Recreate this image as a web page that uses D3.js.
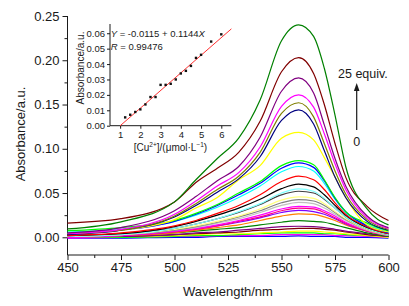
<!DOCTYPE html>
<html><head><meta charset="utf-8">
<script src="https://cdn.jsdelivr.net/npm/d3@7"></script>
<style>
body{margin:0;background:#fff}
svg{display:block}
text{font-family:Arial,"Liberation Sans",sans-serif;fill:#1a1a1a}
</style>
</head><body><svg id="c" width="409" height="306"></svg>
<script>
// ---- main spectra data ----
const wavelengths = [450,475,500,510,520,530,540,550,558,565,570,575,580,590,600];
const s00 = [-0.001,-0.001,0.000,0.000,0.001,0.001,0.001,0.001,0.0015,0.001,0.001,0.001,0.000,0.000,-0.001];
const s01 = [-0.001,0.000,0.001,0.001,0.002,0.002,0.002,0.003,0.003,0.003,0.003,0.002,0.002,0.001,0.000];
const s02 = [0.000,0.000,0.001,0.002,0.002,0.003,0.004,0.005,0.005,0.005,0.004,0.004,0.003,0.002,0.001];
const s03 = [0.000,0.001,0.002,0.003,0.004,0.004,0.005,0.006,0.007,0.007,0.006,0.005,0.004,0.002,0.000];
const s04 = [0.001,0.001,0.003,0.004,0.005,0.006,0.008,0.009,0.010,0.010,0.009,0.008,0.006,0.003,0.001];
const s05 = [0.000,0.001,0.003,0.005,0.006,0.008,0.010,0.012,0.0125,0.012,0.011,0.009,0.007,0.004,0.001];
const s06 = [0.001,0.002,0.005,0.007,0.009,0.011,0.014,0.017,0.0188,0.018,0.017,0.014,0.011,0.005,0.001];
const s07 = [0.000,0.002,0.005,0.008,0.011,0.014,0.019,0.024,0.0264,0.026,0.023,0.019,0.014,0.007,0.002];
const s08 = [0.002,0.003,0.007,0.010,0.013,0.017,0.022,0.028,0.0305,0.029,0.026,0.021,0.015,0.007,0.002];
const s09 = [0.001,0.002,0.006,0.009,0.013,0.018,0.023,0.030,0.033,0.032,0.028,0.022,0.016,0.007,0.002];
const s10 = [0.000,0.002,0.007,0.010,0.014,0.019,0.025,0.032,0.035,0.034,0.030,0.024,0.017,0.008,0.002];
const s11 = [0.001,0.003,0.008,0.011,0.016,0.021,0.028,0.036,0.0395,0.038,0.033,0.026,0.019,0.008,0.002];
const s12 = [0.001,0.003,0.008,0.012,0.017,0.023,0.030,0.039,0.0425,0.041,0.036,0.028,0.020,0.009,0.003];
const s13 = [0.001,0.003,0.009,0.013,0.018,0.024,0.032,0.042,0.0456,0.044,0.038,0.029,0.021,0.009,0.003];
const s14 = [0.002,0.004,0.010,0.015,0.021,0.028,0.037,0.048,0.052,0.050,0.043,0.033,0.023,0.010,0.003];
const s15 = [0.001,0.003,0.010,0.015,0.021,0.029,0.038,0.050,0.0546,0.052,0.044,0.033,0.023,0.010,0.003];
const s16 = [0.002,0.004,0.012,0.018,0.025,0.033,0.043,0.055,0.060,0.057,0.048,0.036,0.025,0.011,0.004];
const s17 = [0.002,0.005,0.013,0.019,0.027,0.036,0.048,0.063,0.069,0.065,0.054,0.039,0.026,0.012,0.004];
const s18 = [0.006,0.009,0.018,0.025,0.034,0.045,0.058,0.074,0.080,0.075,0.061,0.043,0.028,0.014,0.006];
const s19 = [0.004,0.008,0.018,0.026,0.036,0.048,0.061,0.078,0.084,0.079,0.064,0.044,0.029,0.013,0.005];
const s20 = [0.0075,0.011,0.019,0.027,0.037,0.050,0.063,0.081,0.0866,0.082,0.065,0.045,0.029,0.016,0.007];
const s21 = [0.004,0.008,0.020,0.033,0.045,0.065,0.081,0.112,0.1185,0.110,0.090,0.068,0.045,0.014,0.006];
const s22 = [0.003,0.008,0.023,0.036,0.051,0.066,0.091,0.132,0.144,0.128,0.098,0.068,0.045,0.018,0.008];
const s23 = [0.004,0.008,0.024,0.038,0.054,0.069,0.096,0.140,0.152,0.136,0.106,0.075,0.049,0.020,0.009];
const s24 = [0.004,0.009,0.026,0.041,0.058,0.073,0.102,0.148,0.161,0.147,0.117,0.083,0.054,0.022,0.010];
const s25 = [0.005,0.011,0.030,0.046,0.064,0.080,0.113,0.165,0.180,0.163,0.127,0.089,0.058,0.024,0.011];
const s26 = [0.016,0.021,0.040,0.062,0.078,0.096,0.131,0.187,0.203,0.185,0.150,0.106,0.068,0.035,0.019];
const s27 = [0.0095,0.0175,0.040,0.065,0.089,0.112,0.155,0.222,0.240,0.227,0.191,0.138,0.080,0.032,0.014];
const seriesColors = ["#0000FF","#FF00FF","#00FF00","#FFFF00","#800000","#800080","#008000","#FF8000",
  "#8000FF","#FF0080","#FF00FF","#C0C0C0","#808080","#FFFF80","#404040","#80FFFF","#000000","#FF0000",
  "#00FFFF","#0000FF","#00FF00","#FFFF00","#000080","#808000","#FF00FF","#800080","#800000","#008000"];
const xTicks = [450,475,500,525,550,575,600];
const yTicks = [0.00,0.05,0.10,0.15,0.20,0.25];

// ---- inset data ----
const cuConc = [1.25,1.5,1.75,2.0,2.25,2.5,2.75,3.0,3.25,3.5,3.75,4.0,4.25,4.5,4.75,5.0,5.5,6.0];
const insetAbs = [0.0054,0.0071,0.0089,0.0106,0.0138,0.0186,0.0186,0.0265,0.0265,0.0272,0.0300,0.0339,0.0356,0.0388,0.0440,0.0460,0.0546,0.0593];
const fitIntercept = -0.0115, fitSlope = 0.01144;
const fitRange = [1.0, 6.5];
const insetXTicks = [1,2,3,4,5,6];
const insetYTicks = [0.00,0.01,0.02,0.03,0.04,0.05,0.06];

const allSeries = [s00,s01,s02,s03,s04,s05,s06,s07,s08,s09,s10,s11,s12,s13,s14,s15,s16,s17,s18,s19,s20,s21,s22,s23,s24,s25,s26,s27];

const svg = d3.select("#c");
const x = d3.scaleLinear().domain([450,600]).range([67.5,388.5]);
const y = d3.scaleLinear().domain([-0.02,0.25]).range([255,16]);

// axes
const gx = svg.append("g").attr("transform","translate(0,255)")
  .call(d3.axisBottom(x).tickValues(xTicks).tickSize(5).tickPadding(3).tickSizeOuter(0).tickFormat(d3.format("d")));
svg.append("g").attr("transform","translate(0,255)")
  .call(d3.axisBottom(x).tickValues(d3.range(462.5,600,25)).tickSize(3).tickFormat(""))
  .select(".domain").remove();
const gy = svg.append("g").attr("transform","translate(67.5,0)")
  .call(d3.axisLeft(y).tickValues(yTicks).tickSize(5).tickPadding(3).tickSizeOuter(0).tickFormat(d3.format(".2f")));
svg.append("g").attr("transform","translate(67.5,0)")
  .call(d3.axisLeft(y).tickValues([0.025,0.075,0.125,0.175,0.225]).tickSize(3).tickFormat(""))
  .select(".domain").remove();
svg.selectAll(".tick text").attr("font-size",13).attr("font-family","Arial,'Liberation Sans',sans-serif").attr("fill","#1a1a1a");
svg.selectAll(".domain, .tick line").attr("stroke","#1a1a1a").attr("stroke-width",1);
gy.select(".domain").attr("d","M0,255V16");
gx.select(".domain").attr("d","M67.5,0H388.5");

// spectra
const line = d3.line().x((d,i)=>x(wavelengths[i])).y(d=>y(d)).curve(d3.curveMonotoneX);
svg.append("g").selectAll("path").data(allSeries).join("path")
  .attr("d",line).attr("fill","none").attr("stroke",(d,i)=>seriesColors[i]).attr("stroke-width",1.2);

// labels
svg.append("text").attr("transform","translate(25,134) rotate(-90)").attr("text-anchor","middle")
  .attr("font-size",13).text("Absorbance/a.u.");
svg.append("text").attr("x",228).attr("y",296).attr("text-anchor","middle").attr("font-size",13).text("Wavelength/nm");
svg.append("text").attr("x",338).attr("y",78).attr("font-size",12.5).text("25 equiv.");
svg.append("text").attr("x",356.7).attr("y",146).attr("text-anchor","middle").attr("font-size",12.5).text("0");
svg.append("line").attr("x1",356.7).attr("x2",356.7).attr("y1",130).attr("y2",89).attr("stroke","#1a1a1a").attr("stroke-width",1.2);
svg.append("path").attr("d","M356.7,83L353.9,91L359.5,91Z").attr("fill","#1a1a1a");

// ---- inset ----
const ix = d3.scaleLinear().domain([0.5,6.5]).range([110,231.4]);
const iy = d3.scaleLinear().domain([0,0.066]).range([125.7,24]);
const ins = svg.append("g");
const igx = ins.append("g").attr("transform","translate(0,125.7)")
  .call(d3.axisBottom(ix).tickValues(insetXTicks).tickSize(3).tickPadding(3).tickSizeOuter(0).tickFormat(d3.format("d")));
const igy = ins.append("g").attr("transform","translate(110,0)")
  .call(d3.axisLeft(iy).tickValues(insetYTicks).tickSize(3).tickPadding(2).tickSizeOuter(0).tickFormat(d3.format(".2f")));
ins.selectAll(".tick text").attr("font-size",9.5).attr("font-family","Arial,'Liberation Sans',sans-serif").attr("fill","#1a1a1a");
ins.selectAll(".domain, .tick line").attr("stroke","#1a1a1a").attr("stroke-width",1);
igy.select(".domain").attr("d","M0,125.7V24");
igx.select(".domain").attr("d","M110,0H231.4");

ins.append("line")
  .attr("x1",ix(fitRange[0])).attr("y1",iy(fitIntercept+fitSlope*fitRange[0]))
  .attr("x2",ix(fitRange[1])).attr("y2",iy(fitIntercept+fitSlope*fitRange[1]))
  .attr("stroke","#FF3030").attr("stroke-width",1);
ins.selectAll("rect.pt").data(cuConc).join("rect").attr("class","pt")
  .attr("x",(d)=>ix(d)-1.2).attr("y",(d,i)=>iy(insetAbs[i])-1.2).attr("width",2.4).attr("height",2.4).attr("fill","#111");

const eq = ins.append("text").attr("x",110.7).attr("y",37).attr("font-size",9.5);
eq.append("tspan").attr("font-style","italic").text("Y");
eq.append("tspan").text(" = -0.0115 + 0.1144");
eq.append("tspan").attr("font-style","italic").text("X");
const rt = ins.append("text").attr("x",110.7).attr("y",50).attr("font-size",9.5);
rt.append("tspan").attr("font-style","italic").text("R");
rt.append("tspan").text(" = 0.99476");

ins.append("text").attr("transform","translate(83.5,68) rotate(-90)").attr("text-anchor","middle")
  .attr("font-size",10).text("Absorbance/a.u.");
const xl = ins.append("text").attr("x",170.5).attr("y",150.5).attr("text-anchor","middle").attr("font-size",10);
xl.append("tspan").text("[Cu");
xl.append("tspan").attr("font-size",6.5).attr("dy",-4).text("2+");
xl.append("tspan").attr("dy",4).text("]/(\u03BCmol\u00B7L");
xl.append("tspan").attr("font-size",6.5).attr("dy",-4).text("\u22121");
xl.append("tspan").attr("dy",4).text(")");
</script>
</body></html>
